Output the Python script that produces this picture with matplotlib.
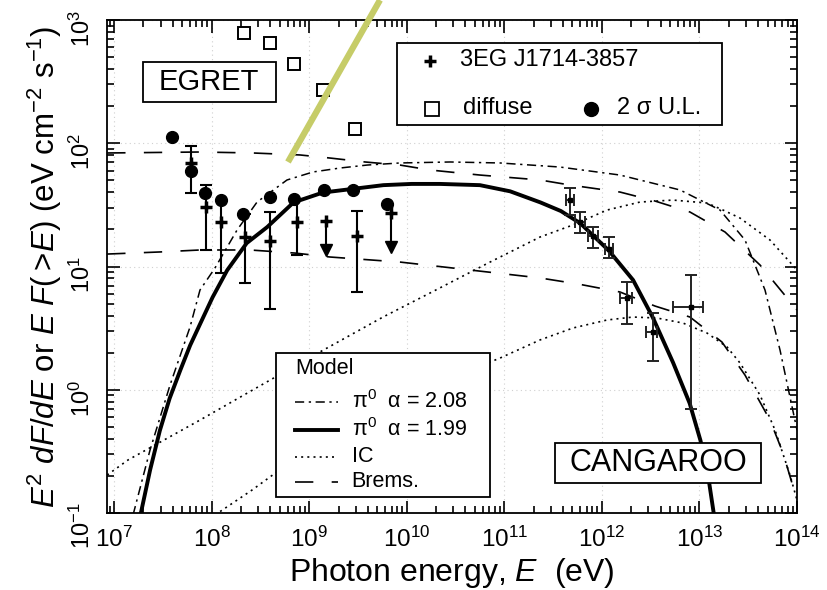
import numpy as np
import matplotlib
matplotlib.use("Agg")
import matplotlib.pyplot as plt
from matplotlib.patches import Rectangle
from matplotlib.lines import Line2D
from matplotlib.ticker import LogLocator, NullFormatter

plt.rcParams['font.family'] = ['Liberation Sans', 'DejaVu Sans']
plt.rcParams['mathtext.fontset'] = 'custom'
plt.rcParams['mathtext.rm'] = 'Liberation Sans'
plt.rcParams['mathtext.it'] = 'Liberation Sans:italic'
plt.rcParams['mathtext.bf'] = 'Liberation Sans:bold'
plt.rcParams['mathtext.sf'] = 'Liberation Sans'

# ---------------- data (log10 E [eV], flux values) ----------------
# EGRET 3EG J1714-3857 points
egret_logE = [7.79, 7.94, 8.10, 8.34, 8.60, 8.88, 9.17, 9.49, 9.84]
egret_F = [68.8, 30.6, 23.1, 17.2, 16.2, 23.1, 23.4, 17.7, 27.0]
egret_F_hi = [95.5, 45.8, 34.4, 26.7, 27.8, 35.3, 23.4, 28.2, 32.1]
egret_F_lo = [39.3, 13.6, 8.86, 7.31, 4.52, 12.5, 13.6, 6.25, 14.5]
egret_is_ul = [False, False, False, False, False, False, True, False, True]

# 2 sigma upper limits
ul_logE = [7.598, 7.794, 7.936, 8.094, 8.322, 8.602, 8.848, 9.152, 9.453, 9.793]
ul_F = [113, 59.2, 39.3, 34.4, 26.7, 36.6, 35.3, 41.8, 41.5, 32.1]

# diffuse
diff_logE = [8.33, 8.60, 8.84, 9.14, 9.47]
diff_F = [785, 650, 440, 270, 131]

# CANGAROO
cang_logE = [11.674, 11.776, 11.912, 12.073, 12.255, 12.527, 12.911]
cang_logE_lo = [11.633, 11.725, 11.858, 12.032, 12.186, 12.453, 12.732]
cang_logE_hi = [11.715, 11.827, 11.961, 12.114, 12.306, 12.565, 13.040]
cang_F = [34.7, 23.1, 17.7, 13.8, 5.52, 2.96, 4.72]
cang_F_hi = [43.1, 27.8, 21.0, 17.45, 7.53, 4.22, 8.53]
cang_F_lo = [26.2, 18.6, 14.05, 11.66, 3.42, 1.72, 0.694]

# model curves (log10 E, log10 F)
pi199_logE = [7.27, 7.37, 7.47, 7.57, 7.68, 7.78, 7.88, 8.01, 8.16, 8.36, 8.57, 8.84,
              9.14, 9.45, 9.76, 10.05, 10.34, 10.75, 11.06, 11.37, 11.58, 11.78, 12.07,
              12.32, 12.52, 12.73, 12.90, 13.01, 13.08, 13.15]
pi199_logF = [-1.02, -0.65, -0.33, -0.07, 0.16, 0.36, 0.53, 0.75, 0.97, 1.19, 1.32, 1.52,
              1.60, 1.63, 1.66, 1.67, 1.67, 1.66, 1.61, 1.52, 1.45, 1.35, 1.13,
              0.89, 0.59, 0.22, -0.11, -0.41, -0.65, -1.02]

pi208_logE = [7.195, 7.369, 7.574, 7.779, 7.881, 8.035, 8.261, 8.466, 8.773, 9.040,
              9.316, 9.593, 9.931, 10.444, 10.956, 11.571, 12.186, 12.801, 13.211,
              13.467, 13.672, 13.826, 14.0]
pi208_logF = [-1.016, -0.489, 0.038, 0.509, 0.809, 0.988, 1.296, 1.523, 1.702, 1.767,
              1.799, 1.823, 1.840, 1.848, 1.840, 1.807, 1.742, 1.621, 1.458,
              1.215, 0.809, 0.322, -0.327]

ic1_logE = [6.93, 7.143, 7.881, 8.906, 9.757, 10.239, 10.854, 11.366, 11.704, 12.053,
            12.391, 12.729, 13.078, 13.242, 13.416, 13.723, 14.0]
ic1_logF = [-0.692, -0.570, -0.246, 0.217, 0.590, 0.785, 1.036, 1.239, 1.337, 1.458,
            1.523, 1.539, 1.515, 1.458, 1.393, 1.215, 0.972]

ic2_logE = [8.035, 8.414, 8.906, 9.419, 9.931, 10.444, 10.956, 11.366, 11.704, 12.053,
            12.319, 12.565, 12.832, 13.078, 13.283, 13.416, 13.621, 13.775, 13.928, 14.0]
ic2_logF = [-1.016, -0.814, -0.530, -0.286, -0.083, 0.095, 0.257, 0.404, 0.501, 0.566,
            0.590, 0.582, 0.541, 0.460, 0.347, 0.217, -0.043, -0.327, -0.692, -0.895]

br1_logE = [6.93, 7.881, 8.425, 8.906, 9.214, 9.573, 9.931, 10.239, 10.751, 11.366,
            11.674, 12.186, 12.545, 12.903, 13.262, 13.621, 14.0]
br1_logF = [1.921, 1.929, 1.921, 1.905, 1.880, 1.848, 1.823, 1.783, 1.742, 1.702,
            1.661, 1.604, 1.531, 1.442, 1.280, 1.012, 0.647]

br2_logE = [6.93, 7.471, 7.881, 8.394, 8.855, 9.214, 9.931, 10.290, 11.366, 11.756,
            12.186, 12.545, 12.903, 13.231, 13.467, 13.723, 13.857, 14.0]
br2_logF = [1.101, 1.118, 1.134, 1.134, 1.109, 1.077, 1.036, 1.004, 0.907, 0.858,
            0.793, 0.679, 0.590, 0.387, 0.119, -0.246, -0.513, -0.895]

# tick labels
x_tick_exps = [7, 8, 9, 10, 11, 12, 13, 14]
y_tick_exps = [-1, 0, 1, 2, 3]

# annotation line (yellow-green pointer)
pointer_logE = [8.783, 9.726]
pointer_logF = [1.848, 3.162]

# ---------------- figure ----------------
W, H = 828, 590
fig = plt.figure(figsize=(W / 100, H / 100), dpi=100)
ax = fig.add_axes([107 / W, 1 - 513 / H, 690 / W, 493 / H])
ax.set_xscale('log')
ax.set_yscale('log')
ax.set_xlim(10 ** 6.928, 1e14)
ax.set_ylim(0.1, 1000)

p = lambda a: 10 ** np.asarray(a, dtype=float)

# grid
ax.grid(True, which='major', linestyle=(0, (1, 3)), color='#d0d0d0', linewidth=0.8)
ax.set_axisbelow(True)

# model curves
ax.plot(p(br1_logE), p(br1_logF), color='black', lw=1.2, dashes=(11, 11), zorder=3)
ax.plot(p(br2_logE), p(br2_logF), color='black', lw=1.2, dashes=(11, 11), zorder=3)
ax.plot(p(ic1_logE), p(ic1_logF), color='black', lw=1.2, dashes=(1.2, 2.5), zorder=3)
ax.plot(p(ic2_logE), p(ic2_logF), color='black', lw=1.2, dashes=(1.2, 2.5), zorder=3)
ax.plot(p(pi208_logE), p(pi208_logF), color='black', lw=1.1, dashes=(6, 3, 1.5, 3), zorder=3)
ax.plot(p(pi199_logE), p(pi199_logF), color='black', lw=2.8, solid_capstyle='butt',
        solid_joinstyle='round', zorder=4)

# diffuse squares
ax.plot(p(diff_logE), diff_F, ls='none', marker='s', ms=8, mfc='white', mec='black',
        mew=1.4, zorder=5)

# EGRET points
for le, f, fh, fl, ul in zip(egret_logE, egret_F, egret_F_hi, egret_F_lo, egret_is_ul):
    e = 10 ** le
    if ul:
        ax.plot([e, e], [f, fl], color='black', lw=1.5, zorder=5)
        ax.plot([e], [fl], marker='v', ms=8, color='black', ls='none', zorder=6)
    else:
        ax.errorbar([e], [f], yerr=[[f - fl], [fh - f]], fmt='none', ecolor='black',
                    elinewidth=1.5, capsize=4.5, capthick=1.5, zorder=5)
    ax.plot([e], [f], marker='+', ms=8, mew=2.5, color='black', ls='none', zorder=6)

# upper limits
ax.plot(p(ul_logE), ul_F, ls='none', marker='o', ms=8.5, color='black', zorder=6)

# CANGAROO
ce = p(cang_logE)
cf = np.asarray(cang_F)
ax.errorbar(ce, cf,
            yerr=[cf - np.asarray(cang_F_lo), np.asarray(cang_F_hi) - cf],
            xerr=[ce - p(cang_logE_lo), p(cang_logE_hi) - ce],
            fmt='s', ms=3, color='black', ecolor='#222222', elinewidth=1.4,
            capsize=4, capthick=1.4, zorder=5)

# pointer line
ax.plot(p(pointer_logE), p(pointer_logF), color='#c6cc68', lw=4.5,
        solid_capstyle='butt', clip_on=False, zorder=7)

# ticks
ax.set_xticks(p(x_tick_exps), [f'$10^{{{k}}}$' for k in x_tick_exps])
ax.set_yticks(p(y_tick_exps), [f'$10^{{{k}}}$' for k in y_tick_exps])
ax.xaxis.set_minor_locator(LogLocator(base=10, subs=np.arange(2, 10), numticks=100))
ax.yaxis.set_minor_locator(LogLocator(base=10, subs=np.arange(2, 10), numticks=100))
ax.xaxis.set_minor_formatter(NullFormatter())
ax.yaxis.set_minor_formatter(NullFormatter())
ax.set_xlim(10 ** 6.928, 1e14)
ax.set_ylim(0.1, 1000)
ax.tick_params(which='both', direction='in', top=True, right=True, width=1.2)
ax.tick_params(which='major', length=9)
ax.tick_params(which='minor', length=5)
ax.tick_params(axis='x', which='major', pad=10, labelsize=17.5)
ax.tick_params(axis='y', which='major', labelrotation=90, pad=9, labelsize=17)
for s in ax.spines.values():
    s.set_linewidth(1.3)

ax.set_xlabel('Photon energy, $E$  (eV)', fontsize=23)
ax.xaxis.set_label_coords(0.5, -0.088)
ax.set_ylabel(r'$E^2$ $dF/dE$ or $E$ $F(>\!E)$ (eV cm$^{-2}$ s$^{-1}$)', fontsize=22.5)
ax.yaxis.set_label_coords(-0.063, 0.5)

T = ax.transAxes


def box(x0, y0, x1, y1):
    ax.add_patch(Rectangle((x0, y0), x1 - x0, y1 - y0, transform=T, facecolor='white',
                           edgecolor='black', lw=1.3, zorder=8))


# EGRET box
box(0.0517, 0.8331, 0.2446, 0.9142)
ax.text(0.1481, 0.8736, 'EGRET', transform=T, ha='center', va='center', fontsize=21, zorder=9)

# CANGAROO box
box(0.6493, 0.0602, 0.9478, 0.1414)
ax.text(0.7986, 0.1008, 'CANGAROO', transform=T, ha='center', va='center', fontsize=22, zorder=9)

# data legend box
box(0.4207, 0.787, 0.8909, 0.954)
ax.add_line(Line2D([0.468], [0.9174], transform=T, marker='+', ms=9, mew=2.5,
                   color='black', ls='none', zorder=9))
ax.text(0.5116, 0.9189, '3EG J1714-3857', transform=T, ha='left', va='center', fontsize=17, zorder=9)
ax.add_line(Line2D([0.4706], [0.8189], transform=T, marker='s', ms=9.5, mfc='white',
                   mec='black', mew=1.3, ls='none', zorder=9))
ax.text(0.5164, 0.8209, 'diffuse', transform=T, ha='left', va='center', fontsize=17, zorder=9)
ax.add_line(Line2D([0.701], [0.8189], transform=T, marker='o', ms=10, color='black',
                   ls='none', zorder=9))
ax.text(0.7396, 0.8209, '2 σ U.L.', transform=T, ha='left', va='center', fontsize=17, zorder=9)

# model legend box
box(0.2449, 0.0318, 0.5551, 0.3252)
ax.text(0.2725, 0.2941, 'Model', transform=T, ha='left', va='center', fontsize=15.5, zorder=9)
rows = [0.2258, 0.1684, 0.1142, 0.0635]
labels = ['π$^0$  α = 2.08', 'π$^0$  α = 1.99', 'IC', 'Brems.']
styles = [dict(lw=1.1, dashes=(6, 3, 1.5, 3)), dict(lw=2.8), dict(lw=1.2, dashes=(1.2, 2.5)),
          dict(lw=1.2, dashes=(11, 11))]
for yy, lab, st in zip(rows, labels, styles):
    ax.add_line(Line2D([0.2725, 0.3348], [yy, yy], transform=T, color='black', zorder=9, **st))
    ax.text(0.3546, yy, lab, transform=T, ha='left', va='center', fontsize=15.5, zorder=9)

fig.savefig('out.png', dpi=100)
